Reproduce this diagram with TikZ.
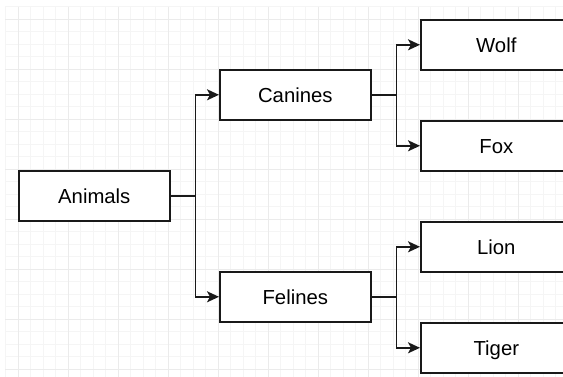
\documentclass[tikz,border=0pt]{standalone}
\usepackage{fontspec}
\setmainfont{Liberation Sans}
\usetikzlibrary{arrows.meta}
\begin{document}
\begin{tikzpicture}[x=1pt,y=-1pt,
  box/.style={draw=black!90, line width=1.6pt, fill=white, minimum width=151pt,
    minimum height=50pt, anchor=north west, inner sep=0pt,
    text height=14.5pt, text depth=0pt, font=\fontsize{20.3}{23}\selectfont},
  conn/.style={draw=black!90, line width=1.6pt, -{Stealth[length=12pt,width=11pt,inset=3pt]}},
  minorgrid/.style={draw=black!4, line width=0.8pt},
  majorgrid/.style={draw=black!8, line width=0.8pt}]
\useasboundingbox (0,0) rectangle (563,377);
\begin{scope}
  \clip (5,7) rectangle (563,377);
  \foreach \k in {-1,...,45} {
    \draw[minorgrid] ({18+12.5*\k},7) -- ({18+12.5*\k},377);
  }
  \foreach \k in {-1,...,30} {
    \draw[minorgrid] (5,{19+12.5*\k}) -- (563,{19+12.5*\k});
  }
  \foreach \k in {0,...,11} {
    \draw[majorgrid] ({18+50*\k},7) -- ({18+50*\k},377);
  }
  \foreach \k in {0,...,7} {
    \draw[majorgrid] (5,{19+50*\k}) -- (563,{19+50*\k});
  }
\end{scope}

\node[box] (animals) at (18,170) {Animals};
\node[box] (canines) at (219,69) {Canines};
\node[box] (felines) at (219,271) {Felines};
\node[box] (wolf) at (420,19) {Wolf};
\node[box] (fox) at (420,120) {Fox};
\node[box] (lion) at (420,221) {Lion};
\node[box] (tiger) at (420,322) {Tiger};

\draw[conn] (animals.east) -- ++(25,0) |- (canines.west);
\draw[conn] (animals.east) -- ++(25,0) |- (felines.west);
\draw[conn] (canines.east) -- ++(25,0) |- (wolf.west);
\draw[conn] (canines.east) -- ++(25,0) |- (fox.west);
\draw[conn] (felines.east) -- ++(25,0) |- (lion.west);
\draw[conn] (felines.east) -- ++(25,0) |- (tiger.west);
\end{tikzpicture}
\end{document}
